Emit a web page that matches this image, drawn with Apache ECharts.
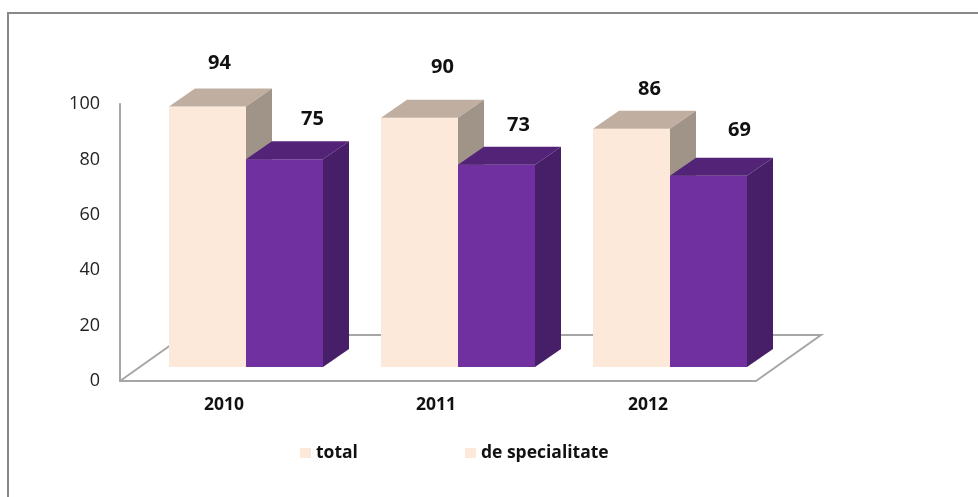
<!DOCTYPE html>
<html>
<head>
<meta charset="utf-8">
<style>html,body{margin:0;padding:0;background:#fff}#c{width:978px;height:497px}</style>
<script src="https://cdn.jsdelivr.net/npm/echarts@6/dist/echarts.min.js"></script>
</head>
<body>
<div id="c"></div>
<script>
const categories = ['2010', '2011', '2012'];
const seriesNames = ['total', 'de specialitate'];
const totalValues = [94, 90, 86];
const specialtyValues = [75, 73, 69];
const yTicks = [0, 20, 40, 60, 80, 100];

// layout only
const FONT = '"Open Sans", sans-serif';
const DX = 26, DY = 18, LIFT = 14, BAR = 77;
const totalLabelNudge = [[12, -43], [23, -50], [18, -39]];
const specialtyLabelNudge = [[28, -40], [22, -39], [31, -46]];
const totalPalette = { front: '#FDE9D9', top: '#C0AFA1', side: '#A09488' };
const specialtyPalette = { front: '#7030A0', top: '#532378', side: '#471E68' };

const poly = (pts, fill) => ({ type: 'polygon', shape: { points: pts }, style: { fill: fill } });

function barRenderer(startOffset, palette, nudges) {
  return function (params, api) {
    const idx = api.value(0);
    const val = api.value(1);
    const top = api.coord([idx, val]);
    const base = api.coord([idx, 0]);
    const x0 = base[0] + startOffset, x1 = x0 + BAR;
    const yB = base[1] - LIFT, yT = top[1] - LIFT;
    const n = nudges[params.dataIndex];
    return {
      type: 'group',
      children: [
        poly([[x0, yB], [x1, yB], [x1, yT], [x0, yT]], palette.front),
        poly([[x0, yT], [x1, yT], [x1 + DX, yT - DY], [x0 + DX, yT - DY]], palette.top),
        poly([[x1, yB], [x1 + DX, yB - DY], [x1 + DX, yT - DY], [x1, yT]], palette.side),
        {
          type: 'text',
          style: {
            text: String(val), x: (x0 + x1) / 2 + n[0], y: yT + n[1],
            align: 'center', verticalAlign: 'middle',
            font: 'bold 20px ' + FONT, fill: '#111'
          }
        }
      ]
    };
  };
}

function floorRenderer(params) {
  const g = params.coordSys;
  const l = g.x, r = g.x + g.width, b = g.y + g.height;
  return {
    type: 'polyline',
    shape: { points: [[l, b], [l + 65, b - 46], [r + 65, b - 46], [r, b]] },
    style: { fill: null, stroke: '#A6A6A6', lineWidth: 2 }
  };
}

const chart = echarts.init(document.getElementById('c'), null, { renderer: 'canvas' });
chart.setOption({
  animation: false,
  backgroundColor: '#fff',
  grid: { left: 120, right: 222, top: 104, bottom: 116, containLabel: false },
  legend: {
    left: 295, top: 439,
    icon: 'rect', itemWidth: 11, itemHeight: 10, itemGap: 107,
    textStyle: { fontFamily: FONT, fontWeight: 'bold', fontSize: 17.5, color: '#111' },
    data: seriesNames.map(n => ({ name: n, itemStyle: { color: totalPalette.front } }))
  },
  xAxis: {
    type: 'category', data: categories,
    axisTick: { show: false },
    axisLine: { lineStyle: { color: '#A6A6A6', width: 2 } },
    axisLabel: { fontFamily: FONT, fontWeight: 'bold', fontSize: 17.5, color: '#111', margin: 15, padding: [0, 4, 0, 0] }
  },
  yAxis: {
    type: 'value', min: 0, max: 100, interval: yTicks[1] - yTicks[0],
    splitLine: { show: false },
    axisTick: { show: false },
    axisLine: { show: true, lineStyle: { color: '#A6A6A6', width: 2 } },
    axisLabel: { fontFamily: FONT, fontSize: 18, color: '#222', margin: 20, padding: [0, 0, 4, 0] }
  },
  graphic: [
    { type: 'polyline', silent: true, shape: { points: [[8, 497], [8, 13], [978, 13]] },
      style: { fill: null, stroke: '#888', lineWidth: 2 } }
  ],
  series: [
    { type: 'custom', name: 'floor', renderItem: floorRenderer, data: [0], silent: true, clip: false },
    { type: 'custom', name: seriesNames[0], renderItem: barRenderer(-57, totalPalette, totalLabelNudge),
      encode: { x: 0, y: 1 }, clip: false, itemStyle: { color: totalPalette.front },
      data: totalValues.map((v, i) => [i, v]) },
    { type: 'custom', name: seriesNames[1], renderItem: barRenderer(20, specialtyPalette, specialtyLabelNudge),
      encode: { x: 0, y: 1 }, clip: false, itemStyle: { color: totalPalette.front },
      data: specialtyValues.map((v, i) => [i, v]) }
  ]
});
</script>
</body>
</html>
